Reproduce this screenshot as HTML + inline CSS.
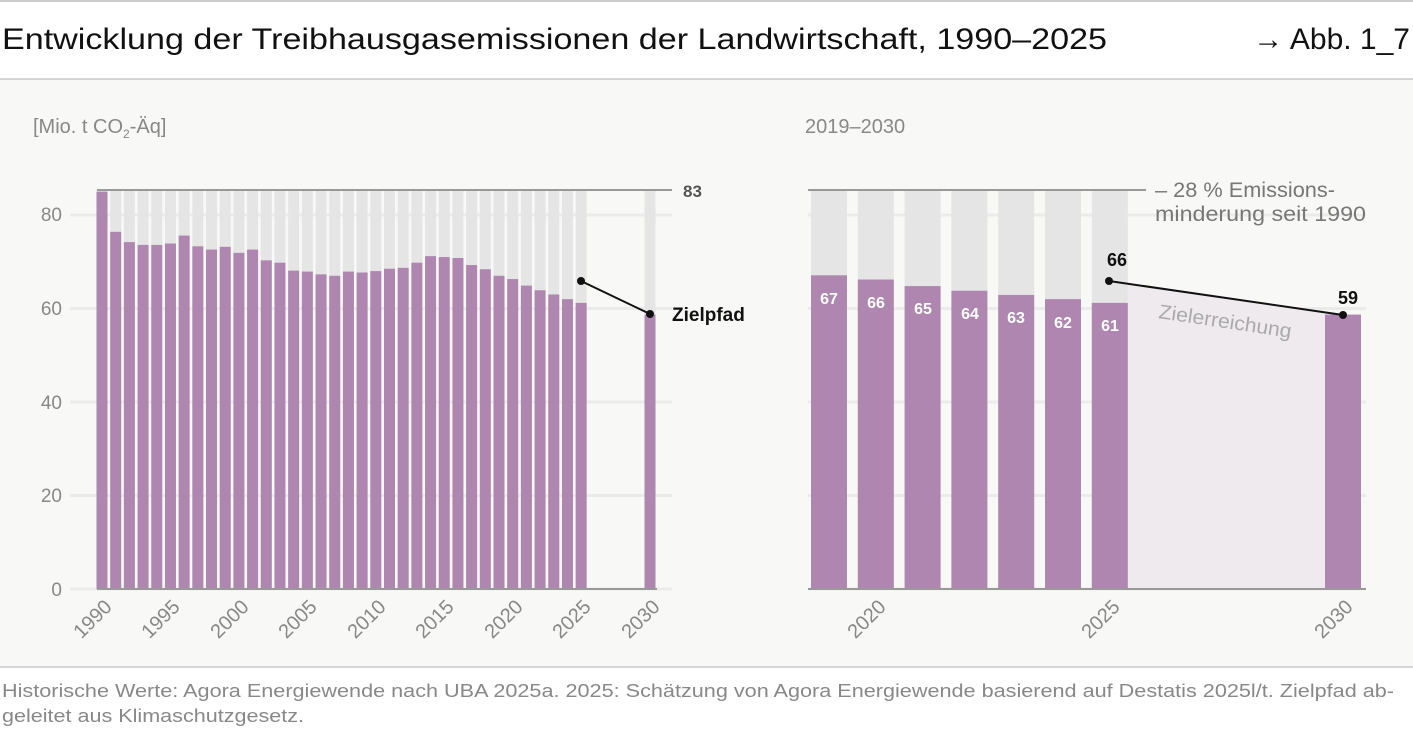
<!DOCTYPE html>
<html><head><meta charset="utf-8"><style>
html,body{margin:0;padding:0;background:#fff;}
svg{display:block;font-family:"Liberation Sans",sans-serif;}
</style></head><body>
<svg id="s" width="1413" height="738" viewBox="0 0 1413 738" xmlns="http://www.w3.org/2000/svg">
<rect x="0" y="0" width="1413" height="738" fill="#fff"/>
<line x1="0" y1="1" x2="1413" y2="1" stroke="#ccc" stroke-width="2"/>
<rect x="0" y="79" width="1413" height="588" fill="#f8f8f7"/>
<line x1="0" y1="79" x2="1413" y2="79" stroke="#c8c8c8" stroke-width="1.5"/>
<line x1="0" y1="667" x2="1413" y2="667" stroke="#c8c8c8" stroke-width="1.5"/>
<text x="2" y="49" font-size="30" fill="#111" textLength="1105" lengthAdjust="spacingAndGlyphs">Entwicklung der Treibhausgasemissionen der Landwirtschaft, 1990–2025</text>
<text x="1410" y="49" font-size="30" fill="#111" text-anchor="end">→ Abb. 1_7</text>
<text x="33" y="133" font-size="20" fill="#888">[Mio. t CO<tspan font-size="12" dy="5">2</tspan><tspan dy="-5">-Äq]</tspan></text>
<text x="805" y="133" font-size="20" fill="#888">2019–2030</text>
<g id="grid" stroke="#ebebeb" stroke-width="3"></g>
<g font-size="19" fill="#888" text-anchor="end">
<text x="62" y="221">80</text><text x="62" y="315">60</text><text x="62" y="409">40</text><text x="62" y="502">20</text><text x="62" y="596">0</text>
</g>
<g id="bars"></g>
<line x1="97" y1="190" x2="672" y2="190" stroke="#999" stroke-width="2"/>
<text x="683" y="197" font-size="17" font-weight="bold" fill="#555">83</text>
<line x1="97" y1="589" x2="657" y2="589" stroke="#999" stroke-width="2"/>
<line x1="581" y1="281" x2="650" y2="314" stroke="#111" stroke-width="2"/>
<circle cx="581" cy="281" r="4" fill="#111"/><circle cx="650" cy="314" r="4" fill="#111"/>
<text x="672" y="321" font-size="19" font-weight="bold" fill="#111">Zielpfad</text>
<g font-size="20" fill="#888" text-anchor="end">
<text transform="translate(113,608) rotate(-45)">1990</text>
<text transform="translate(181,608) rotate(-45)">1995</text>
<text transform="translate(250,608) rotate(-45)">2000</text>
<text transform="translate(318,608) rotate(-45)">2005</text>
<text transform="translate(387,608) rotate(-45)">2010</text>
<text transform="translate(455,608) rotate(-45)">2015</text>
<text transform="translate(524,608) rotate(-45)">2020</text>
<text transform="translate(592,608) rotate(-45)">2025</text>
<text transform="translate(661,608) rotate(-45)">2030</text>
</g>
<polygon points="1128,283.7 1343,315 1343,589 1128,589" fill="#eeeaee"/>
<g id="rbars"></g>
<line x1="808" y1="190" x2="1146" y2="190" stroke="#999" stroke-width="2"/>
<text x="1155" y="197" font-size="21" fill="#777" textLength="180" lengthAdjust="spacingAndGlyphs">– 28 % Emissions-</text>
<text x="1155" y="221" font-size="21" fill="#777" textLength="211" lengthAdjust="spacingAndGlyphs">minderung seit 1990</text>
<line x1="808" y1="589" x2="1366" y2="589" stroke="#999" stroke-width="2"/>
<text transform="translate(1158,318) rotate(8.5)" font-size="20" fill="#aaa" textLength="134" lengthAdjust="spacingAndGlyphs">Zielerreichung</text>
<line x1="1109" y1="281" x2="1343" y2="315" stroke="#111" stroke-width="2"/>
<circle cx="1109" cy="281" r="4" fill="#111"/><circle cx="1343" cy="315" r="4" fill="#111"/>
<text x="1117" y="266" font-size="18" font-weight="bold" fill="#111" text-anchor="middle">66</text>
<text x="1348" y="304" font-size="18" font-weight="bold" fill="#111" text-anchor="middle">59</text>
<g font-size="16" font-weight="bold" fill="#fff" text-anchor="middle">
<text x="829" y="304">67</text><text x="876" y="308">66</text><text x="923" y="314">65</text><text x="970" y="319">64</text><text x="1016" y="323">63</text><text x="1063" y="328">62</text><text x="1110" y="331">61</text>
</g>
<g font-size="20" fill="#888" text-anchor="end">
<text transform="translate(887,608) rotate(-45)">2020</text>
<text transform="translate(1121,608) rotate(-45)">2025</text>
<text transform="translate(1354,608) rotate(-45)">2030</text>
</g>
<text x="2" y="697" font-size="18" fill="#888" textLength="1392" lengthAdjust="spacingAndGlyphs">Historische Werte: Agora Energiewende nach UBA 2025a. 2025: Schätzung von Agora Energiewende basierend auf Destatis 2025l/t. Zielpfad ab-</text>
<text x="2" y="722" font-size="18" fill="#888" textLength="302" lengthAdjust="spacingAndGlyphs">geleitet aus Klimaschutzgesetz.</text>
</svg>
<script>
var NS="http://www.w3.org/2000/svg";
function r(g,x,y,w,h,f){var e=document.createElementNS(NS,"rect");e.setAttribute("x",x);e.setAttribute("y",y);e.setAttribute("width",w);e.setAttribute("height",h);e.setAttribute("fill",f);g.appendChild(e);}
var Y=function(v){return 589-v*4.675;};
var grid=document.getElementById("grid");
[0,20,40,60,80].forEach(function(v){
 var l=document.createElementNS(NS,"line");l.setAttribute("x1",70);l.setAttribute("x2",672);l.setAttribute("y1",Y(v));l.setAttribute("y2",Y(v));grid.appendChild(l);
 var m=document.createElementNS(NS,"line");m.setAttribute("x1",808);m.setAttribute("x2",1366);m.setAttribute("y1",Y(v));m.setAttribute("y2",Y(v));grid.appendChild(m);
});
var vals=[85,76.4,74.2,73.6,73.6,73.9,75.6,73.3,72.6,73.2,71.9,72.6,70.3,69.8,68.1,67.9,67.3,67.0,67.9,67.7,68.0,68.5,68.7,69.8,71.2,71.0,70.8,69.3,68.4,67.0,66.3,64.9,63.9,63.0,62.0,61.2];
var g=document.getElementById("bars");
vals.forEach(function(v,i){var cx=102+i*13.69;r(g,cx-5.5,190,11,399,"#e5e5e5");r(g,cx-5.5,Y(v),11,589-Y(v),"#ae86b0");});
r(g,650-5.5,190,11,399,"#e5e5e5");r(g,650-5.5,Y(58.7),11,589-Y(58.7),"#ae86b0");
var rv=[67.1,66.2,64.8,63.8,62.9,62.0,61.2];
var rg=document.getElementById("rbars");
rv.forEach(function(v,i){var cx=829+i*46.8;r(rg,cx-18,190,36,399,"#e5e5e5");r(rg,cx-18,Y(v),36,589-Y(v),"#ae86b0");});
r(rg,1343-18,Y(58.7),36,589-Y(58.7),"#ae86b0");
</script>
</body></html>
